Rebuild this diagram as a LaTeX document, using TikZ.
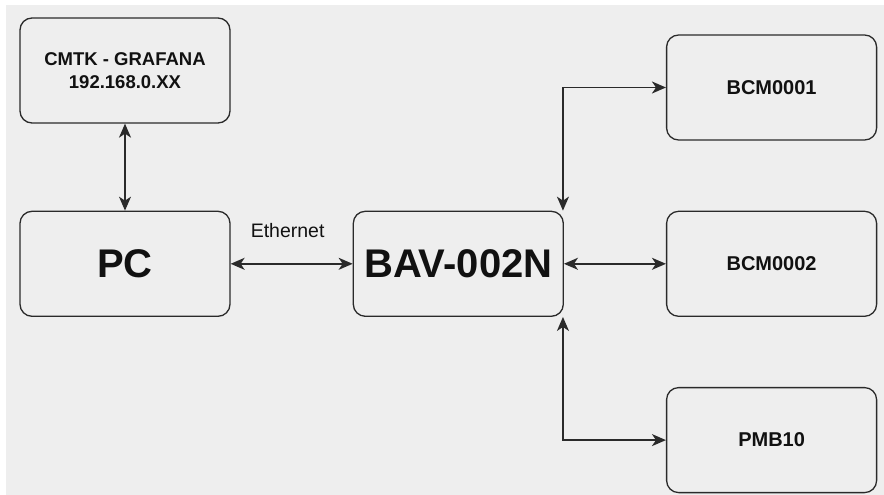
\documentclass[tikz,border=0pt]{standalone}
\usepackage{fontspec}
\setmainfont{Liberation Sans}
\usetikzlibrary{arrows.meta,positioning}
\definecolor{bggray}{HTML}{EEEEEE}
\definecolor{linegray}{HTML}{2A2A2A}
\definecolor{textdark}{HTML}{111111}

\begin{document}
\begin{tikzpicture}[x=1pt,y=-1pt,node distance=87pt and 122pt,
  device/.style={draw=linegray,line width=1.3pt,rounded corners=12pt,
                 minimum width=210pt,minimum height=105pt,align=center,
                 text=textdark,font=\bfseries\fontsize{20}{23}\selectfont},
  link/.style={draw=linegray,line width=1.5pt,
               {Stealth[length=14pt,width=12pt,inset=4pt]}-{Stealth[length=14pt,width=12pt,inset=4pt]}}]
\useasboundingbox (0,0) rectangle (884,495);
\fill[bggray] (6,5) rectangle (884,495);
% left side
\node[device,font=\bfseries\fontsize{18.5}{23}\selectfont] (cmtk) at (125,70.5) {CMTK - GRAFANA\\192.168.0.XX};
\node[device,font=\bfseries\fontsize{40}{44}\selectfont,below=87pt of cmtk] (pc) {PC};
\node[device,font=\bfseries\fontsize{40}{44}\selectfont,right=122pt of pc] (bav) {BAV-002N};
% devices on the bus
\node[device,right=102pt of bav] (bcm2) {BCM0002};
\node[device,above=70pt of bcm2] (bcm1) {BCM0001};
\node[device,below=70pt of bcm2] (pmb) {PMB10};
% links
\draw[link] (cmtk) -- (pc);
\draw[link] (pc) -- node[midway,above=22pt,xshift=-4pt,text=textdark,font=\fontsize{19.5}{22}\selectfont] {Ethernet} (bav);
\draw[link] (bav) -- (bcm2);
\draw[link] ([xshift=-1pt]bav.north east) |- (bcm1.west);
\draw[link] ([xshift=-1pt]bav.south east) |- (pmb.west);
\end{tikzpicture}
\end{document}
